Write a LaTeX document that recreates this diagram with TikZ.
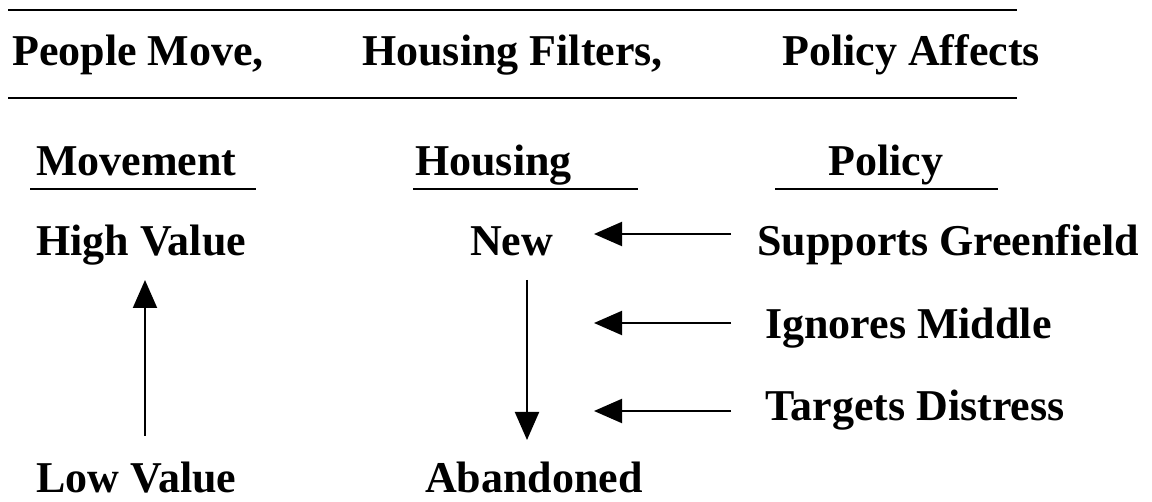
\documentclass[tikz,border=0pt]{standalone}
\usepackage{fontspec}
\setmainfont{Liberation Serif}
\usetikzlibrary{arrows.meta}
\begin{document}
\begin{tikzpicture}[x=1pt,y=-1pt,
  lbl/.style={anchor=base west,inner sep=0pt,font=\fontsize{44}{48}\selectfont\bfseries},
  rule/.style={line width=2pt},
  conn/.style={line width=2pt,-{Triangle[length=28pt,width=24pt]}}]
\useasboundingbox (0,0) rectangle (1152,502);
% header rules
\coordinate (r1a) at (8,10);  \coordinate (r1b) at (1017,10);
\coordinate (r2a) at (8,98);  \coordinate (r2b) at (1017,98);
\draw[rule] (r1a) -- (r1b);
\draw[rule] (r2a) -- (r2b);
% header texts
\node[lbl] (pm) at (12,66) {People Move,};
\node[lbl] (hf) at (362,66) {Housing Filters,};
\node[lbl] (pa) at (782,66) {Policy Affects};
% column titles
\node[lbl] (mv) at (36,176) {Movement};
\node[lbl] (hs) at (415,176) {Housing};
\node[lbl] (po) at (828,176) {Policy};
\coordinate (u1a) at (30,189);  \coordinate (u1b) at (256,189);
\coordinate (u2a) at (413,189); \coordinate (u2b) at (638,189);
\coordinate (u3a) at (775,189); \coordinate (u3b) at (998,189);
\draw[rule] (u1a) -- (u1b);
\draw[rule] (u2a) -- (u2b);
\draw[rule] (u3a) -- (u3b);
% items
\node[lbl] (hv) at (36,256) {High Value};
\node[lbl] (nw) at (470,256) {New};
\node[lbl] (sg) at (757,256) {Supports Greenfield};
\node[lbl] (im) at (765,339) {Ignores Middle};
\node[lbl] (td) at (765,421) {Targets Distress};
\node[lbl,text depth=0pt] (lv) at (36,493) {Low Value};
\node[lbl,text depth=0pt] (ab) at (425,493) {Abandoned};
% arrows
\coordinate (upS) at (145,436); \coordinate (upE) at (145,280);
\coordinate (dnS) at (527,280); \coordinate (dnE) at (527,440);
\draw[conn] (upS) -- (upE);
\draw[conn] (dnS) -- (dnE);
\coordinate (a1s) at (731,234); \coordinate (a1e) at (594,234);
\coordinate (a2s) at (731,323); \coordinate (a2e) at (594,323);
\coordinate (a3s) at (731,411); \coordinate (a3e) at (594,411);
\draw[conn] (a1s) -- (a1e);
\draw[conn] (a2s) -- (a2e);
\draw[conn] (a3s) -- (a3e);
\end{tikzpicture}
\end{document}
